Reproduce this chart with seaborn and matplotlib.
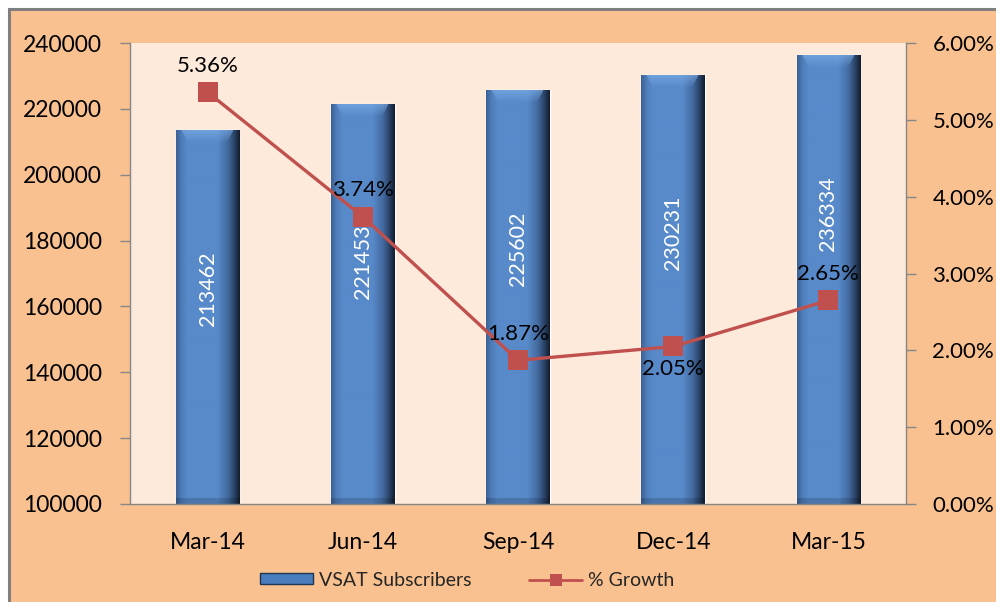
import numpy as np
import matplotlib
matplotlib.use("Agg")
import matplotlib.pyplot as plt
import seaborn as sns
from matplotlib.patches import Rectangle, Patch
from matplotlib.lines import Line2D
from matplotlib.ticker import FuncFormatter, FixedLocator

# data
quarters = ["Mar-14", "Jun-14", "Sep-14", "Dec-14", "Mar-15"]
subscribers = [213462, 221453, 225602, 230231, 236334]
growth = [5.36, 3.74, 1.87, 2.05, 2.65]
growth_side = ["above", "above", "above", "below", "above"]

sns.set_theme(style="white")
plt.rcParams["font.family"] = ["Lato", "DejaVu Sans"]

outer_bg = "#F9C18F"
inner_bg = "#FDEADA"
grey = "#868686"
bar_blue = "#5588C8"
red = "#C0504D"

fig = plt.figure(figsize=(9.96, 6.02), dpi=100, facecolor="white")
# chart area frame
fig.patches.append(Rectangle((9 / 996, -0.02), 1.05, 1 - 9 / 602 + 0.02,
                             transform=fig.transFigure, facecolor=outer_bg,
                             edgecolor="#7F7F7F", linewidth=2.2, zorder=-5))

ax = fig.add_axes([130 / 996, 1 - 504 / 602, 776 / 996, 461 / 602])
ax.set_facecolor(inner_bg)

sns.barplot(x=quarters, y=subscribers, color=bar_blue, saturation=1,
            width=0.41, ax=ax, zorder=2)

ymin, ymax = 100000, 240000
ax.set_ylim(ymin, ymax)
ax.set_xlim(-0.5, len(quarters) - 0.5)

# bevelled look for the bars
px_per_unit = 461 / (ymax - ymin)
for bar in ax.patches:
    x0, w = bar.get_x(), bar.get_width()
    top = bar.get_height()
    h_px = max(int((top - ymin) * px_per_unit), 2)
    W = 64
    xs = np.linspace(0, 1, W)
    stops = [0.0, 0.08, 0.18, 0.65, 0.82, 0.93, 1.0]
    cols = np.array([[60, 98, 150], [78, 125, 185], [88, 138, 202], [88, 138, 202],
                     [66, 105, 158], [38, 62, 95], [18, 30, 46]]) / 255
    row = np.stack([np.interp(xs, stops, cols[:, k]) for k in range(3)], axis=1)
    img = np.repeat(row[None, :, :], h_px, axis=0)
    light = np.array([125, 175, 232]) / 255
    for i in range(min(12, h_px)):
        t = 1 - i / 12
        inner = (xs > 0.08 + 0.1 * (1 - t)) & (xs < 0.9 - 0.1 * (1 - t))
        img[i, inner] = img[i, inner] * (1 - 0.6 * t) + light * 0.6 * t
    for i in range(min(6, h_px)):
        img[h_px - 1 - i] = img[h_px - 1 - i] * 0.85
    ax.imshow(img, extent=(x0, x0 + w, ymin, top), aspect="auto",
              zorder=2.1, interpolation="bilinear")

for i, v in enumerate(subscribers):
    ax.text(i, v - 48000, str(v), rotation=90, ha="center", va="center",
            color="white", fontsize=15.5, zorder=3)

ax.set_ylim(ymin, ymax)
ax.set_xlim(-0.5, len(quarters) - 0.5)
ax.yaxis.set_major_locator(FixedLocator(np.arange(ymin, ymax + 1, 20000)))
ax.yaxis.set_major_formatter(FuncFormatter(lambda v, p: f"{int(v)}"))
ax.set_xticks(range(len(quarters)))
ax.set_xticklabels(quarters)
ax.set_xticks(np.arange(-0.5, len(quarters), 1), minor=True)
ax.tick_params(axis="x", which="major", length=0, pad=20, labelsize=16.5, colors="black")
ax.tick_params(axis="x", which="minor", length=7, width=1, color=grey, direction="out")
ax.tick_params(axis="y", length=7, width=1, color=grey, direction="out",
               pad=13, labelsize=16.5, labelcolor="black", left=True)
ax.set_xlabel("")
ax.set_ylabel("")
ax.grid(False)
for s in ["top", "right"]:
    ax.spines[s].set_visible(False)
for s in ["left", "bottom"]:
    ax.spines[s].set_color(grey)
    ax.spines[s].set_linewidth(1)

ax2 = ax.twinx()
ax2.set_zorder(ax.get_zorder() + 1)
sns.lineplot(x=np.arange(len(quarters)), y=growth, ax=ax2, color=red,
             linewidth=2.4, marker="s", markersize=14, markeredgewidth=0)
ax2.set_ylim(0, 6)
ax2.set_xlim(-0.5, len(quarters) - 0.5)
ax2.yaxis.set_major_locator(FixedLocator(np.arange(0, 6.01, 1)))
ax2.yaxis.set_major_formatter(FuncFormatter(lambda v, p: f"{v:.2f}%"))
ax2.tick_params(axis="y", length=7, width=1, color=grey, direction="out",
                pad=12, labelsize=16, labelcolor="black", right=True)
ax2.set_ylabel("")
ax2.grid(False)
for s in ["top", "left", "bottom"]:
    ax2.spines[s].set_visible(False)
ax2.spines["right"].set_color(grey)
ax2.spines["right"].set_linewidth(1)

for i, (g, side) in enumerate(zip(growth, growth_side)):
    dy = 19 if side == "above" else -16
    ax2.annotate(f"{g:.2f}%", (i, g), xytext=(0, dy), textcoords="offset points",
                 ha="center", va="center", fontsize=16, color="black", zorder=5)

handles = [
    Patch(facecolor="#4A7DBE", edgecolor="#1F3550", linewidth=1),
    Line2D([0], [0], color=red, linewidth=2, marker="s", markersize=8.5,
           markeredgewidth=0),
]
fig.legend(handles, ["VSAT Subscribers", "% Growth"], loc="center",
           bbox_to_anchor=(0.469, 0.036), ncol=2, frameon=False, fontsize=14,
           handlelength=2.7, handleheight=0.5, handletextpad=0.3, columnspacing=3.0)

fig.savefig("out.png", dpi=100, facecolor="white")
